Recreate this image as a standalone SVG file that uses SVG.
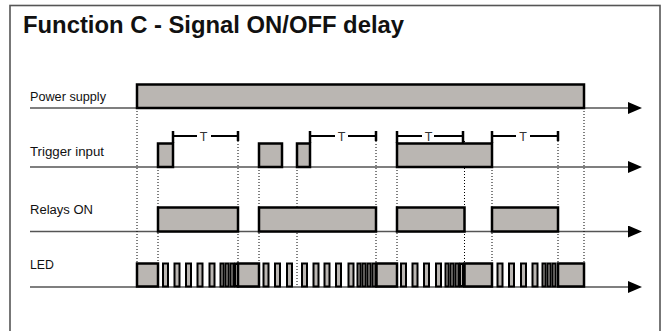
<svg xmlns="http://www.w3.org/2000/svg" width="667" height="331" viewBox="0 0 667 331">
<defs>
<marker id="arr" markerUnits="userSpaceOnUse" markerWidth="14" markerHeight="12" refX="0" refY="6" orient="auto"><path d="M0,0 L14,6 L0,12 Z" fill="#000"/></marker>
</defs>
<style>
.lbl{font-family:"Liberation Sans",Arial,sans-serif;font-size:12.3px;fill:#111}
.ttl{font-family:"Liberation Sans",Arial,sans-serif;font-size:23.5px;font-weight:bold;fill:#111}
.sig{fill:#bab6b2;stroke:#000;stroke-width:2.5}
.bar{fill:#bab6b2;stroke:#000;stroke-width:2}
.axis{stroke:#555;stroke-width:1.6;fill:none}
.dot{stroke:#000;stroke-width:1;stroke-dasharray:1 2;fill:none}
.brk{stroke:#000;stroke-width:2;fill:none}
.tick{stroke:#000;stroke-width:2.5;fill:none}
.t{font-family:"Liberation Sans",Arial,sans-serif;font-size:12.5px;fill:#333;text-anchor:middle}
</style>
<rect width="667" height="331" fill="#fff"/>
<g id="frame"><rect x="10" y="5.5" width="650" height="345" fill="#fff" stroke="#555" stroke-width="1.6"/></g>
<g id="title"><text class="ttl" x="23" y="33" textLength="381" lengthAdjust="spacingAndGlyphs">Function C - Signal ON/OFF delay</text></g>
<g id="connectors">
<line class="axis" x1="30" y1="108" x2="628" y2="108" marker-end="url(#arr)"/>
<line class="axis" x1="30" y1="167" x2="628" y2="167" marker-end="url(#arr)"/>
<line class="axis" x1="30" y1="231.5" x2="628" y2="231.5" marker-end="url(#arr)"/>
<line class="axis" x1="30" y1="287" x2="628" y2="287" marker-end="url(#arr)"/>
<path class="dot" d="M137,108V263 M158,167V263 M238,141V263 M259,167V263 M297,167V287 M376,141V263 M397,167V263 M464.5,141V263 M492,167V263 M558,141V263 M584,108V263"/>
<g id="bracket1"><path class="tick" d="M173,131V143 M238,131V141"/><path class="brk" d="M173,136H197 M211,136H238"/><text class="t" x="203.5" y="140.5">T</text></g>
<g id="bracket2"><path class="tick" d="M310,131V143 M376,131V141"/><path class="brk" d="M310,136H335 M348,136H376"/><text class="t" x="341.5" y="140.5">T</text></g>
<g id="bracket3"><path class="tick" d="M397,131V143 M463,131V143"/><path class="brk" d="M397,136H422 M434,136H463"/><text class="t" x="428.5" y="140.5">T</text></g>
<g id="bracket4"><path class="tick" d="M492,131V143 M558,131V141"/><path class="brk" d="M492,136H516 M530,136H558"/><text class="t" x="523" y="140.5">T</text></g>
</g>
<g id="power">
<text class="lbl" x="30" y="101" textLength="76" lengthAdjust="spacingAndGlyphs">Power supply</text>
<rect class="sig" x="137" y="84.5" width="447" height="23.5"/>
</g>
<g id="trigger">
<text class="lbl" x="30" y="156" textLength="74" lengthAdjust="spacingAndGlyphs">Trigger input</text>
<rect class="sig" x="158" y="143.5" width="15" height="23.5"/>
<rect class="sig" x="259" y="143.5" width="23" height="23.5"/>
<rect class="sig" x="297" y="143.5" width="13" height="23.5"/>
<rect class="sig" x="397" y="143.5" width="95" height="23.5"/>
</g>
<g id="relays">
<text class="lbl" x="30" y="214" textLength="63" lengthAdjust="spacingAndGlyphs">Relays ON</text>
<rect class="sig" x="158" y="207.5" width="80" height="24"/>
<rect class="sig" x="259" y="207.5" width="117" height="24"/>
<rect class="sig" x="397" y="207.5" width="67.5" height="24"/>
<rect class="sig" x="492" y="207.5" width="66" height="24"/>
</g>
<g id="led">
<text class="lbl" x="30" y="269">LED</text>
<rect class="bar" x="163" y="263.5" width="5" height="23"/>
<rect class="bar" x="174.5" y="263.5" width="5" height="23"/>
<rect class="bar" x="186" y="263.5" width="5" height="23"/>
<rect class="bar" x="197.5" y="263.5" width="5" height="23"/>
<rect class="bar" x="209.5" y="263.5" width="5" height="23"/>
<rect class="bar" x="220.5" y="263.5" width="3" height="23"/>
<rect class="bar" x="225.5" y="263.5" width="3" height="23"/>
<rect class="bar" x="230.5" y="263.5" width="3" height="23"/>
<rect class="bar" x="235" y="263.5" width="3" height="23"/>
<rect class="bar" x="263.5" y="263.5" width="5" height="23"/>
<rect class="bar" x="275" y="263.5" width="5" height="23"/>
<rect class="bar" x="287" y="263.5" width="5" height="23"/>
<rect class="bar" x="302" y="263.5" width="5" height="23"/>
<rect class="bar" x="313.5" y="263.5" width="5" height="23"/>
<rect class="bar" x="324.5" y="263.5" width="5" height="23"/>
<rect class="bar" x="336" y="263.5" width="5" height="23"/>
<rect class="bar" x="348.5" y="263.5" width="5" height="23"/>
<rect class="bar" x="357.5" y="263.5" width="3" height="23"/>
<rect class="bar" x="362.5" y="263.5" width="3" height="23"/>
<rect class="bar" x="367.5" y="263.5" width="3" height="23"/>
<rect class="bar" x="372.5" y="263.5" width="3" height="23"/>
<rect class="bar" x="401" y="263.5" width="5" height="23"/>
<rect class="bar" x="412.5" y="263.5" width="5" height="23"/>
<rect class="bar" x="424" y="263.5" width="5" height="23"/>
<rect class="bar" x="436" y="263.5" width="5" height="23"/>
<rect class="bar" x="445.5" y="263.5" width="3" height="23"/>
<rect class="bar" x="450.5" y="263.5" width="3" height="23"/>
<rect class="bar" x="455.5" y="263.5" width="3" height="23"/>
<rect class="bar" x="460" y="263.5" width="3" height="23"/>
<rect class="bar" x="497.5" y="263.5" width="5" height="23"/>
<rect class="bar" x="509" y="263.5" width="5" height="23"/>
<rect class="bar" x="521" y="263.5" width="5" height="23"/>
<rect class="bar" x="532.5" y="263.5" width="5" height="23"/>
<rect class="bar" x="542.5" y="263.5" width="3" height="23"/>
<rect class="bar" x="547.5" y="263.5" width="3" height="23"/>
<rect class="bar" x="552.5" y="263.5" width="3" height="23"/>
<rect class="sig" x="137" y="263.5" width="21" height="23"/>
<rect class="sig" x="238" y="263.5" width="21" height="23"/>
<rect class="sig" x="376.5" y="263.5" width="20.5" height="23"/>
<rect class="sig" x="464.5" y="263.5" width="27.5" height="23"/>
<rect class="sig" x="558" y="263.5" width="26" height="23"/>
</g>
</svg>
